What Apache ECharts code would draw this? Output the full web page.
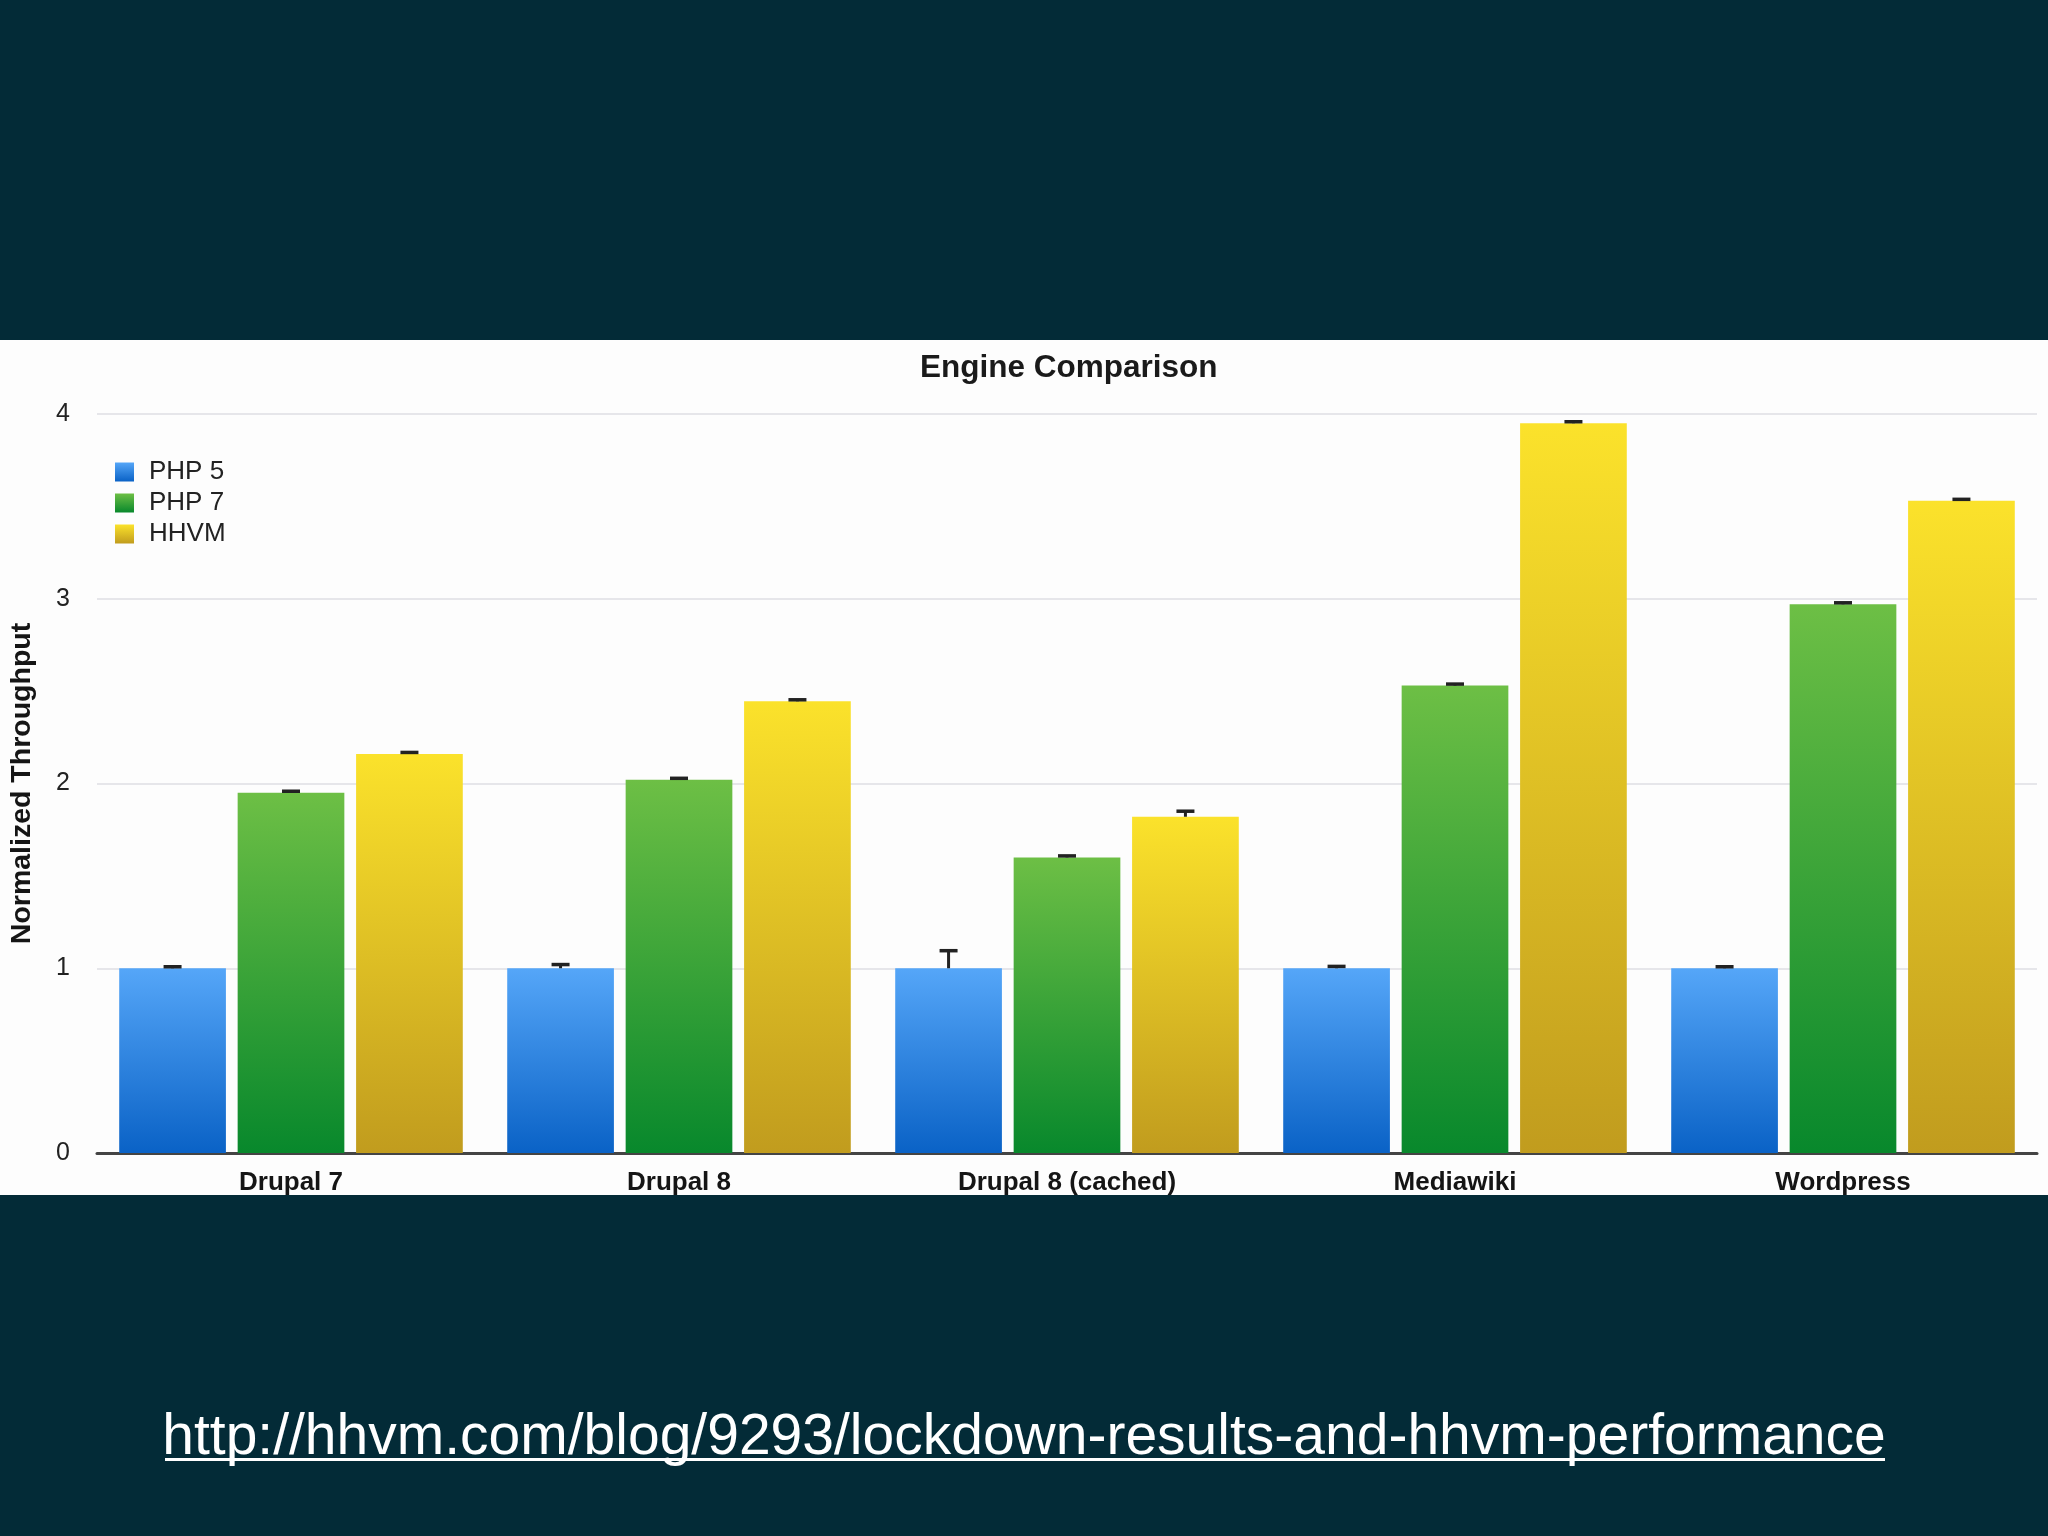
<!DOCTYPE html>
<html>
<head>
<meta charset="utf-8">
<script src="https://cdn.jsdelivr.net/npm/echarts@6/dist/echarts.min.js"></script>
<style>
html,body{margin:0;padding:0;background:#032b37;}
#c{width:2048px;height:1536px;}
</style>
</head>
<body>
<div id="c"></div>
<script>
var categories = ['Drupal 7', 'Drupal 8', 'Drupal 8 (cached)', 'Mediawiki', 'Wordpress'];
var seriesNames = ['PHP 5', 'PHP 7', 'HHVM'];
var php5 = [1.0, 1.0, 1.0, 1.0, 1.0];
var php7 = [1.95, 2.02, 1.60, 2.53, 2.97];
var hhvm = [2.16, 2.445, 1.82, 3.95, 3.53];
var php5Err = [0.0, 0.02, 0.095, 0.01, 0.0];
var php7Err = [0.005, 0.0, 0.0, 0.0, 0.0];
var hhvmErr = [0.0, 0.0, 0.03, 0.0, 0.0];
var yTicks = [0, 1, 2, 3, 4];
var title = 'Engine Comparison';
var yName = 'Normalized Throughput';
var url = 'http://hhvm.com/blog/9293/lockdown-results-and-hhvm-performance';

var BAR_FRAC = 0.275, GAP_FRAC = 0.11;
var FONT = '"Liberation Sans", Arial, sans-serif';

function grad(top, bottom) {
  return new echarts.graphic.LinearGradient(0, 0, 0, 1, [
    {offset: 0, color: top}, {offset: 1, color: bottom}
  ]);
}
var colors = [
  grad('#55a6f8', '#0a62c6'),
  grad('#6dbf45', '#08882c'),
  grad('#fbe22b', '#c19c1e')
];
var values = [php5, php7, hhvm];
var errs = [php5Err, php7Err, hhvmErr];

function errRender(idx) {
  return function (params, api) {
    var cat = api.value(0), v = api.value(1), e = api.value(2);
    var base = api.coord([cat, v]);
    var top = api.coord([cat, v + e]);
    var band = api.size([1, 0])[0];
    var bw = band * BAR_FRAC;
    var off = (idx - 1) * bw * (1 + GAP_FRAC);
    var x = base[0] + off;
    var yTop = Math.min(top[1], base[1] - 1.5);
    var hw = 9;
    return {
      type: 'group',
      children: [
        {type: 'line', shape: {x1: x, y1: base[1], x2: x, y2: yTop}, style: {stroke: '#222', lineWidth: 3}},
        {type: 'line', shape: {x1: x - hw, y1: yTop, x2: x + hw, y2: yTop}, style: {stroke: '#222', lineWidth: 3.5}}
      ]
    };
  };
}

var series = [];
for (var i = 0; i < 3; i++) {
  series.push({
    name: seriesNames[i],
    type: 'bar',
    data: values[i],
    barWidth: (BAR_FRAC * 100) + '%',
    barGap: (GAP_FRAC * 100) + '%',
    itemStyle: {color: colors[i]},
    z: 2
  });
}
for (var j = 0; j < 3; j++) {
  var d = [];
  for (var k = 0; k < categories.length; k++) d.push([k, values[j][k], errs[j][k]]);
  series.push({
    name: seriesNames[j] + ' error',
    type: 'custom',
    renderItem: errRender(j),
    data: d,
    encode: {x: 0, y: 1},
    z: 5,
    silent: true
  });
}

var chart = echarts.init(document.getElementById('c'));
chart.setOption({
  animation: false,
  backgroundColor: '#032b37',
  graphic: [
    {type: 'rect', left: 0, top: 340, shape: {width: 2048, height: 855}, style: {fill: '#fdfdfd'}, z: -10},
    {type: 'text', left: 'center', top: 1410, style: {text: url, fill: '#ffffff', font: '300 57px ' + FONT}},
    {type: 'rect', left: 165, top: 1458, shape: {width: 1720, height: 3}, style: {fill: '#ffffff'}}
  ],
  title: {
    text: title, left: 915, top: 347,
    textStyle: {fontFamily: FONT, fontWeight: 'bold', fontSize: 31.5, color: '#1a1a1a'}
  },
  legend: {
    data: seriesNames, orient: 'vertical', left: 110, top: 454,
    itemWidth: 19, itemHeight: 19, itemGap: 5, icon: 'rect',
    textStyle: {fontFamily: FONT, fontSize: 26, color: '#222', padding: [0, 0, 0, 10]}
  },
  grid: {left: 91, right: 11, top: 414, bottom: 383, containLabel: false},
  xAxis: {
    type: 'category', data: categories,
    axisLine: {lineStyle: {color: '#444', width: 3}},
    axisTick: {show: false},
    axisLabel: {fontFamily: FONT, fontWeight: 'bold', fontSize: 26, color: '#151515', margin: 17}
  },
  yAxis: {
    type: 'value', min: yTicks[0], max: yTicks[yTicks.length - 1], interval: 1,
    name: yName, nameLocation: 'middle', nameGap: 60, nameRotate: 90,
    nameTextStyle: {fontFamily: FONT, fontWeight: 'bold', fontSize: 28.5, color: '#151515'},
    axisLine: {show: false}, axisTick: {show: false},
    axisLabel: {fontFamily: FONT, fontSize: 25, color: '#222', margin: 27},
    splitLine: {lineStyle: {color: '#e6e6ea', width: 2}}
  },
  series: series
});
</script>
</body>
</html>
